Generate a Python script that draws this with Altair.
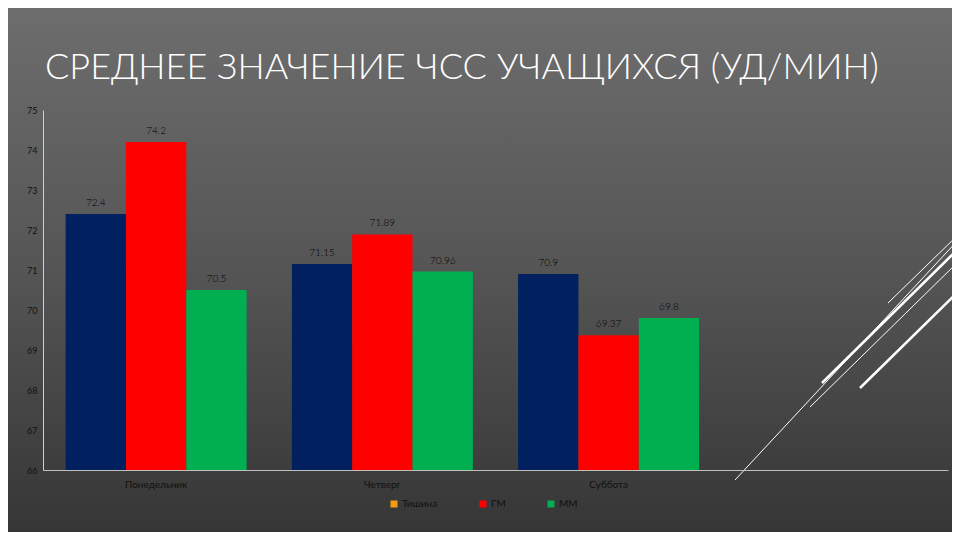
import altair as alt
import pandas as pd

days = ["Понедельник", "Четверг", "Суббота"]
series = ["Тишина", "ГМ", "ММ"]
tishina = [72.4, 71.15, 70.9]
gm = [74.2, 71.89, 69.37]
mm = [70.5, 70.96, 69.8]
y_ticks = [66, 67, 68, 69, 70, 71, 72, 73, 74, 75]
x_domain = days + [" "]
y_min, y_max = 66, 75
title_text = "СРЕДНЕЕ ЗНАЧЕНИЕ ЧСС УЧАЩИХСЯ (УД/МИН)"

bar_colors = ["#002060", "#FF0000", "#00B050"]
legend_colors = ["#F39C12", "#FF0000", "#00B050"]

rows = []
for i, d in enumerate(days):
    for s, vals in zip(series, [tishina, gm, mm]):
        rows.append({"day": d, "series": s, "value": vals[i]})
df = pd.DataFrame(rows)

FONT = "Lato"
W, H = 905, 360

x_enc = alt.X("day:N", sort=x_domain,
              scale=alt.Scale(domain=x_domain, paddingInner=0.2, paddingOuter=0.1),
              axis=alt.Axis(title=None, labelAngle=0, ticks=False, domainColor="#bfbfbf",
                            labelColor="#111111", labelFontSize=10, labelFont=FONT,
                            labelPadding=9, zindex=2))
y_enc = alt.Y("value:Q", scale=alt.Scale(domain=[y_min, y_max], zero=False, nice=False),
              axis=alt.Axis(title=None, values=y_ticks, grid=False, ticks=False,
                            domainColor="#d0d0d0", labelColor="#111111", labelFontSize=9,
                            labelFont=FONT, labelPadding=6, zindex=2))
xoff = alt.XOffset("series:N", sort=series, scale=alt.Scale(paddingInner=0, paddingOuter=0))

one = alt.Data(values=[{"a": 1}])

bg = alt.Chart(one).mark_rect(
    fill=alt.LinearGradient(gradient="linear", x1=0, y1=0, x2=0, y2=1,
                            stops=[alt.GradientStop(color="#6e6e6e", offset=0),
                                   alt.GradientStop(color="#555555", offset=0.5),
                                   alt.GradientStop(color="#353535", offset=1)])
).encode(x=alt.value(-43), x2=alt.value(917), y=alt.value(-110), y2=alt.value(430))

title = alt.Chart(one).mark_text(
    text=title_text, font=FONT, fontSize=36, fontWeight=300, color="white", align="left",
    baseline="alphabetic"
).encode(x=alt.value(2), y=alt.value(-31))

bars = alt.Chart(df).mark_bar().encode(
    x=x_enc, y=y_enc, y2=alt.datum(y_min), xOffset=xoff,
    color=alt.Color("series:N", sort=series,
                    scale=alt.Scale(domain=series, range=bar_colors), legend=None),
)

labels = alt.Chart(df).mark_text(dy=-11, fontSize=10, font=FONT, fontWeight=300,
                                 color="#000000").encode(
    x=x_enc, y=y_enc, xOffset=xoff, text=alt.Text("value:Q"),
)

legend_layer = alt.Chart(df).mark_square(size=0).encode(
    x=x_enc, y=y_enc, xOffset=xoff,
    fill=alt.Fill("series:N", sort=series,
                  scale=alt.Scale(domain=series, range=legend_colors),
                  legend=alt.Legend(title=None, orient="none", direction="horizontal",
                                    legendX=346, legendY=389, symbolType="square",
                                    symbolSize=49, symbolOpacity=1, symbolStrokeWidth=0,
                                    labelFont=FONT, labelFontSize=10, labelColor="#111111",
                                    columnPadding=40, labelOffset=3, zindex=2)),
)

deco_specs = [
    (692, 370, 917, 128, 1),
    (779, 273, 917, 137, 2.5),
    (767, 297, 917, 150, 1),
    (845, 193, 917, 123, 1),
    (817, 278, 917, 180, 2.5),
]
deco = [
    alt.Chart(one).mark_rule(color="white", strokeWidth=sw).encode(
        x=alt.value(x1), y=alt.value(y1), x2=alt.value(x2), y2=alt.value(y2))
    for (x1, y1, x2, y2, sw) in deco_specs
]

chart = alt.layer(bg, *deco, title, bars, labels, legend_layer).resolve_scale(
    fill="independent", color="independent"
).properties(
    width=W, height=H,
    autosize=alt.AutoSizeParams(type="none"),
    padding={"left": 35, "top": 102, "right": 4, "bottom": 62},
).configure(background="#555555").configure_view(stroke=None)

chart.save("out.html", embed_options={"renderer": "svg", "actions": False})
